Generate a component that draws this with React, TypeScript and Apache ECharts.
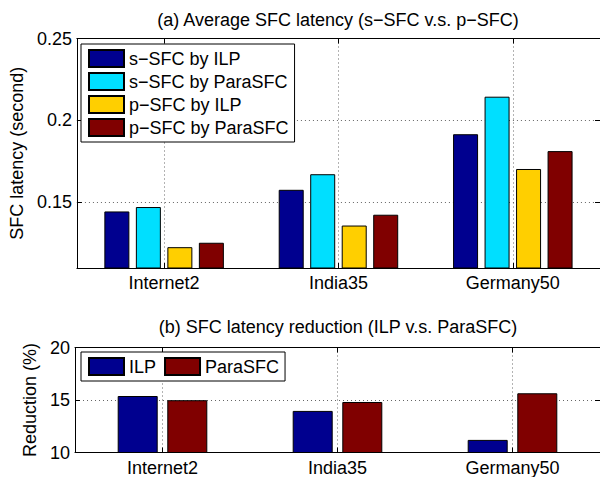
import React, { useEffect, useRef } from "react";
import * as echarts from "echarts";

const CATEGORIES = ["Internet2", "India35", "Germany50"];

const TOP_SERIES_NAMES = ["s−SFC by ILP", "s−SFC by ParaSFC", "p−SFC by ILP", "p−SFC by ParaSFC"];
const S_SFC_ILP = [0.1445, 0.1577, 0.1916];
const S_SFC_PARA = [0.1472, 0.1672, 0.2145];
const P_SFC_ILP = [0.1227, 0.1359, 0.1704];
const P_SFC_PARA = [0.1254, 0.1425, 0.1813];
const TOP_COLORS = ["#00008F", "#00DFFF", "#FFCF00", "#800000"];

const BOTTOM_SERIES_NAMES = ["ILP", "ParaSFC"];
const RED_ILP = [15.38, 13.96, 11.2];
const RED_PARA = [14.98, 14.81, 15.64];
const BOTTOM_COLORS = ["#00008F", "#800000"];

const TITLE_A = "(a) Average SFC latency (s−SFC v.s. p−SFC)";
const TITLE_B = "(b) SFC latency reduction (ILP v.s. ParaSFC)";
const Y_NAME_A = "SFC latency (second)";
const Y_NAME_B = "Reduction (%)";

const FONT = "Liberation Sans, Arial, Helvetica, sans-serif";
const FS = 18;

export default function App() {
  const ref = useRef<HTMLDivElement>(null);

  useEffect(() => {
    if (!ref.current) return;
    const chart = echarts.init(ref.current, undefined, { renderer: "svg" });

    const toPairs = (arr: number[]) => arr.map((v, i) => [i + 1, v]);
    const xLabel = (v: number) => {
      const idx = Math.round(v) - 1;
      return Math.abs(v - Math.round(v)) < 1e-6 && CATEGORIES[idx] ? CATEGORIES[idx] : "";
    };

    const gridLine = { show: true, lineStyle: { color: "#666", type: [1, 3] as any, width: 1 } };
    const axisLine = { show: true, onZero: false, lineStyle: { color: "#000", width: 1 } };
    const tick = { show: true, inside: true, length: 5, lineStyle: { color: "#000" } };

    const xBottom = (gridIndex: number) => ({
      type: "value",
      gridIndex,
      position: "bottom",
      min: 0.5,
      max: 3.5,
      splitNumber: 3,
      axisLine,
      axisTick: tick,
      splitLine: gridLine,
      axisLabel: {
        formatter: xLabel,
        color: "#000",
        fontSize: FS,
        fontFamily: FONT,
        margin: 6,
        showMinLabel: false,
        showMaxLabel: false,
      },
    });
    const xTop = (gridIndex: number) => ({
      type: "value",
      gridIndex,
      position: "top",
      min: 0.5,
      max: 3.5,
      splitNumber: 3,
      axisLine,
      axisTick: tick,
      splitLine: { show: false },
      axisLabel: { show: false },
    });

    const topY = {
      min: 0.11,
      max: 0.25,
      splitNumber: 3,
    };
    const botY = {
      min: 10,
      max: 20,
      interval: 5,
    };

    const yLeft = (gridIndex: number, range: any, name: string, nameGap: number) => ({
      type: "value",
      gridIndex,
      position: "left",
      ...range,
      name,
      nameLocation: "middle",
      nameGap,
      nameTextStyle: { color: "#000", fontSize: FS, fontFamily: FONT },
      axisLine,
      axisTick: tick,
      splitLine: gridLine,
      axisLabel: {
        color: "#000",
        fontSize: FS,
        fontFamily: FONT,
        margin: 5,
        showMinLabel: range.min === 10,
      },
    });
    const yRight = (gridIndex: number, range: any) => ({
      type: "value",
      gridIndex,
      position: "right",
      ...range,
      axisLine,
      axisTick: tick,
      splitLine: { show: false },
      axisLabel: { show: false },
    });

    const topData = [S_SFC_ILP, S_SFC_PARA, P_SFC_ILP, P_SFC_PARA];
    const botData = [RED_ILP, RED_PARA];

    const series: any[] = [];
    topData.forEach((arr, i) => {
      series.push({
        type: "bar",
        name: TOP_SERIES_NAMES[i],
        xAxisIndex: 0,
        yAxisIndex: 0,
        data: toPairs(arr),
        barWidth: 25,
        barGap: "26%",
        itemStyle: { color: TOP_COLORS[i], borderColor: "#000", borderWidth: 1 },
        clip: true,
      });
    });
    botData.forEach((arr, i) => {
      series.push({
        type: "bar",
        name: BOTTOM_SERIES_NAMES[i],
        xAxisIndex: 2,
        yAxisIndex: 2,
        data: toPairs(arr),
        barWidth: 40,
        barGap: "24%",
        itemStyle: { color: BOTTOM_COLORS[i], borderColor: "#000", borderWidth: 1 },
        clip: true,
      });
    });

    const legendBase = {
      icon: "rect",
      itemWidth: 35,
      itemHeight: 17,
      padding: [5, 6, 5, 7],
      borderColor: "#000",
      borderWidth: 1,
      backgroundColor: "#fff",
      textStyle: { color: "#000", fontSize: FS, fontFamily: FONT },
      selectedMode: false,
    };

    chart.setOption({
      animation: false,
      backgroundColor: "#fff",
      textStyle: { fontFamily: FONT },
      title: [
        {
          text: TITLE_A,
          left: 338,
          top: 11,
          textAlign: "center",
          padding: 0,
          textStyle: { color: "#000", fontSize: FS, fontWeight: "normal", fontFamily: FONT },
        },
        {
          text: TITLE_B,
          left: 338,
          top: 318,
          textAlign: "center",
          padding: 0,
          textStyle: { color: "#000", fontSize: FS, fontWeight: "normal", fontFamily: FONT },
        },
      ],
      legend: [
        {
          ...legendBase,
          orient: "vertical",
          left: 81,
          top: 44,
          itemGap: 4,
          data: TOP_SERIES_NAMES,
        },
        {
          ...legendBase,
          orient: "horizontal",
          left: 81,
          top: 352,
          itemGap: 8,
          data: BOTTOM_SERIES_NAMES,
        },
      ],
      grid: [
        { left: 75, right: 0, top: 38.5, height: 229.5 },
        { left: 75, right: 0, top: 347.5, height: 105 },
      ],
      xAxis: [xBottom(0), xTop(0), xBottom(1), xTop(1)],
      yAxis: [
        yLeft(0, topY, Y_NAME_A, 46),
        yRight(0, topY),
        yLeft(1, botY, Y_NAME_B, 27),
        yRight(1, botY),
      ],
      series,
    });

    return () => chart.dispose();
  }, []);

  return (
    <div
      ref={ref}
      style={{ position: "fixed", left: 0, top: 0, width: 600, height: 477 }}
    />
  );
}
